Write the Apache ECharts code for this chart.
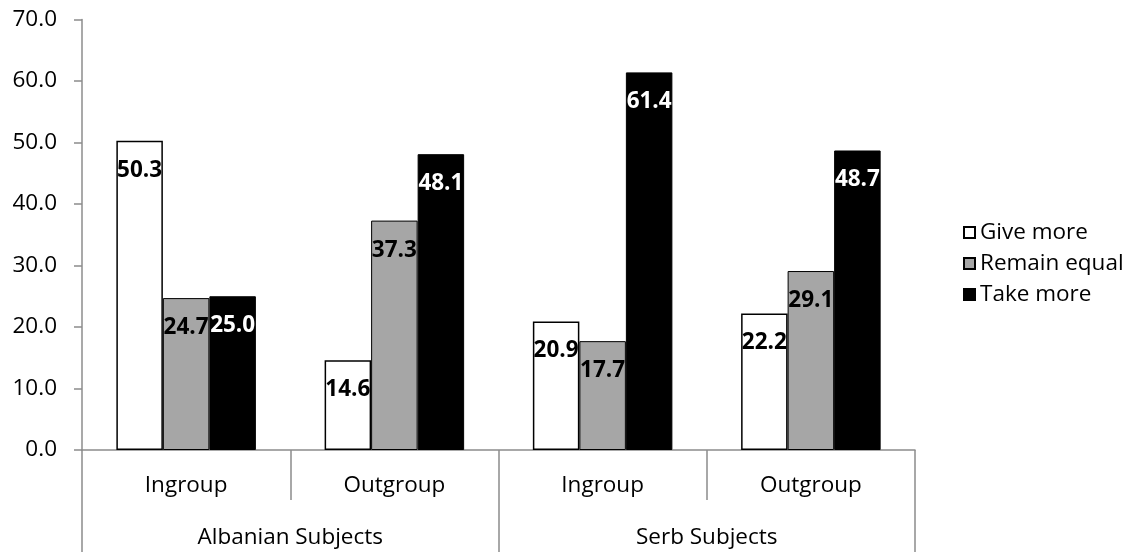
<!DOCTYPE html>
<html>
<head>
<meta charset="utf-8">
<script src="https://cdn.jsdelivr.net/npm/echarts@6/dist/echarts.min.js"></script>
<style>
  html, body { margin: 0; padding: 0; background: #fff; }
  #chart { width: 1135px; height: 552px; }
</style>
</head>
<body>
<div id="chart"></div>
<script>
// Inner (condition) and outer (subject group) category labels
const conditions = ['Ingroup', 'Outgroup', 'Ingroup', 'Outgroup'];
const subjectGroups = ['Albanian Subjects', 'Serb Subjects'];

// Percentages per response type
const seriesNames = ['Give more', 'Remain equal', 'Take more'];
const giveMore = [50.3, 14.6, 20.9, 22.2];
const remainEqual = [24.7, 37.3, 17.7, 29.1];
const takeMore = [25.0, 48.1, 61.4, 48.7];

const FONT = 'Open Sans';
const FS = 22.5;
const AXIS_GREY = '#8c8c8c';

const chart = echarts.init(document.getElementById('chart'), null, { renderer: 'canvas' });

function barSeries(name, values, fill, border, borderWidth, labelColor) {
  return {
    name: name,
    type: 'bar',
    xAxisIndex: 0,
    data: values,
    barGap: '0%',
    barCategoryGap: '33%',
    itemStyle: { color: fill, borderColor: border, borderWidth: borderWidth },
    label: {
      show: true,
      position: 'insideTop',
      distance: 18,
      color: labelColor,
      fontFamily: FONT,
      fontWeight: 'bold',
      fontSize: FS,
      formatter: p => p.value.toFixed(1)
    },
    emphasis: { disabled: true }
  };
}

chart.setOption({
  animation: false,
  backgroundColor: '#ffffff',
  textStyle: { fontFamily: FONT },
  grid: { left: 82, right: 220, top: 19.5, bottom: 102, containLabel: false },
  legend: {
    orient: 'vertical',
    left: 958,
    top: 216,
    itemWidth: 11,
    itemHeight: 11,
    itemGap: 8,
    icon: 'rect',
    data: seriesNames,
    textStyle: { fontFamily: FONT, fontSize: FS, color: '#000', padding: [0, 0, 0, 0] }
  },
  xAxis: [
    {
      type: 'category',
      data: conditions,
      position: 'bottom',
      axisLine: { show: true, lineStyle: { color: AXIS_GREY, width: 1.5 } },
      axisTick: { show: true, interval: 0, length: 50, alignWithLabel: false, lineStyle: { color: AXIS_GREY, width: 1.5 } },
      axisLabel: { interval: 0, margin: 24, color: '#000', fontFamily: FONT, fontSize: FS },
      splitLine: { show: false }
    },
    {
      type: 'category',
      data: subjectGroups,
      position: 'bottom',
      axisLine: { show: false },
      axisTick: { show: true, interval: 0, length: 102, alignWithLabel: false, lineStyle: { color: AXIS_GREY, width: 1.5 } },
      axisLabel: { interval: 0, margin: 76, color: '#000', fontFamily: FONT, fontSize: FS },
      splitLine: { show: false }
    }
  ],
  yAxis: {
    type: 'value',
    min: 0,
    max: 70,
    interval: 10,
    axisLine: { show: true, lineStyle: { color: AXIS_GREY, width: 1.5 } },
    axisTick: { show: true, length: 8, lineStyle: { color: AXIS_GREY, width: 1.5 } },
    axisLabel: { margin: 25, color: '#000', fontFamily: FONT, fontSize: FS, formatter: v => v.toFixed(1) },
    splitLine: { show: false }
  },
  series: [
    barSeries(seriesNames[0], giveMore, '#ffffff', '#000000', 1.5, '#000000'),
    barSeries(seriesNames[1], remainEqual, '#a6a6a6', '#000000', 1, '#000000'),
    barSeries(seriesNames[2], takeMore, '#000000', '#000000', 1, '#ffffff')
  ]
});
</script>
</body>
</html>
